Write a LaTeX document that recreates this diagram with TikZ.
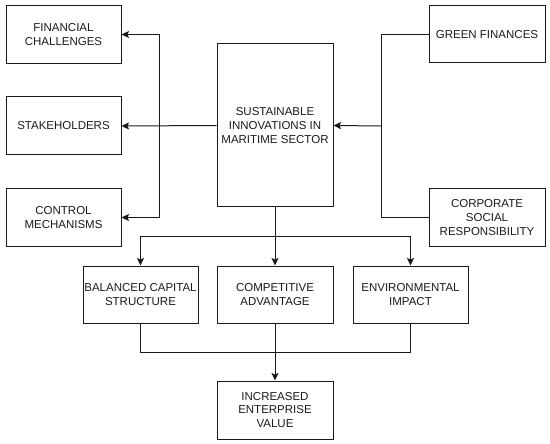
\documentclass[tikz,border=0pt]{standalone}
\usepackage{fontspec}
\setmainfont{Liberation Sans}
\usetikzlibrary{arrows.meta}
\definecolor{ink}{HTML}{1A1A1A}
\begin{document}
\begin{tikzpicture}[x=1pt,y=-1pt,
  box/.style={draw=ink,line width=1pt,rectangle,align=center,inner sep=0pt,
    text=ink,font=\fontsize{11.5}{13.8}\selectfont},
  conn/.style={draw=ink,line width=1pt},
  arr/.style={conn,-{Stealth[length=7.5pt,width=7pt,inset=1.5pt]}}]
\useasboundingbox (0,0) rectangle (550,444);
\node[box,minimum width=115,minimum height=58] (fin) at (63.5,34.5) {FINANCIAL\\CHALLENGES};
\node[box,minimum width=115,minimum height=58] (stake) at (63.5,126) {STAKEHOLDERS};
\node[box,minimum width=115,minimum height=57] (ctrl) at (63.5,217.5) {CONTROL\\MECHANISMS};
\node[box,minimum width=116,minimum height=163] (sim) at (275,125.5) {SUSTAINABLE\\INNOVATIONS IN\\MARITIME SECTOR};
\node[box,minimum width=116,minimum height=57] (green) at (487,34.5) {GREEN FINANCES};
\node[box,minimum width=116,minimum height=57] (csr) at (487,217.5) {CORPORATE\\SOCIAL\\RESPONSIBILITY};
\node[box,minimum width=115,minimum height=57] (bal) at (140.5,294.5) {BALANCED CAPITAL\\STRUCTURE};
\node[box,minimum width=116,minimum height=57] (comp) at (275,294.5) {COMPETITIVE\\ADVANTAGE};
\node[box,minimum width=115,minimum height=57] (env) at (410.5,294.5) {ENVIRONMENTAL\\IMPACT};
\node[box,minimum width=116,minimum height=58] (inc) at (275,410) {INCREASED\\ENTERPRISE\\VALUE};
\coordinate (jl) at (159,126);
\coordinate (jr) at (381,126);
\coordinate (jt) at (275,237);
\coordinate (jb) at (275,352);
% left fan
\draw[arr] (sim.west) -- (stake.east);
\draw[arr] (jl) |- (fin.east);
\draw[arr] (jl) |- (ctrl.east);
% right merge
\draw[conn] (green.west) -| (jr);
\draw[conn] (csr.west) -| (jr);
\draw[arr] (jr) -- (sim.east);
% lower fan
\draw[arr] (sim.south) -- (comp.north);
\draw[arr] (jt) -| (bal.north);
\draw[arr] (jt) -| (env.north);
% bottom merge
\draw[conn] (bal.south) |- (jb);
\draw[conn] (env.south) |- (jb);
\draw[arr] (comp.south) -- (inc.north);
\end{tikzpicture}
\end{document}
